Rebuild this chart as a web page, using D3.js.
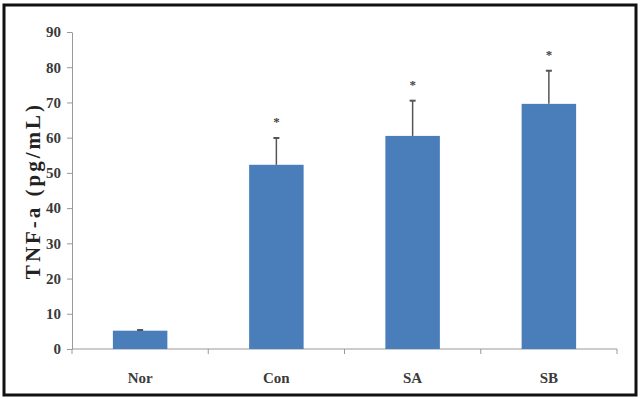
<!DOCTYPE html>
<html>
<head>
<meta charset="utf-8">
<script src="https://cdn.jsdelivr.net/npm/d3@7"></script>
<style>
  html, body { margin: 0; padding: 0; background: #fff; }
  svg { display: block; }
</style>
</head>
<body>
<div id="chart"></div>
<script>
// ── Data
const categories = ["Nor", "Con", "SA", "SB"];
const means = [5.2, 52.3, 60.5, 69.6];
const errors = [0.2, 7.6, 10.0, 9.4];
const significant = [false, true, true, true];
const yTicks = [0, 10, 20, 30, 40, 50, 60, 70, 80, 90];

const width = 640, height = 399;
const margin = { top: 32, right: 23, bottom: 50, left: 72 };

const svg = d3.select("#chart").append("svg")
  .attr("width", width)
  .attr("height", height);

// ── Outer frame
svg.append("rect")
  .attr("x", 4).attr("y", 5)
  .attr("width", 632).attr("height", 390)
  .attr("fill", "#fff")
  .attr("stroke", "#111")
  .attr("stroke-width", 3);

const x = d3.scaleBand()
  .domain(categories)
  .range([margin.left, width - margin.right])
  .paddingInner(0.6)
  .paddingOuter(0.3);

const y = d3.scaleLinear()
  .domain([0, 90])
  .range([height - margin.bottom, margin.top]);

const font = "'Liberation Serif', 'Times New Roman', serif";

// ── Y axis
const yAxis = svg.append("g")
  .attr("transform", `translate(${margin.left},0)`)
  .call(d3.axisLeft(y).tickValues(yTicks).tickSize(5).tickSizeOuter(0).tickPadding(6));
yAxis.select(".domain").attr("stroke", "#999");
yAxis.selectAll(".tick line").attr("stroke", "#999");
yAxis.selectAll(".tick text")
  .attr("font-family", font)
  .attr("font-weight", "bold")
  .attr("font-size", 15)
  .attr("fill", "#3a3a3a");

// ── X axis (ticks between categories)
const xAxisG = svg.append("g")
  .attr("transform", `translate(0,${y(0)})`);
xAxisG.append("line")
  .attr("x1", margin.left).attr("x2", width - margin.right)
  .attr("stroke", "#999");
const step = x.step();
const bounds = d3.range(categories.length + 1)
  .map(i => margin.left + i * step);
xAxisG.selectAll("line.tick")
  .data(bounds)
  .join("line")
  .attr("class", "tick")
  .attr("x1", d => d).attr("x2", d => d)
  .attr("y1", 0).attr("y2", 5)
  .attr("stroke", "#999");
xAxisG.selectAll("text")
  .data(categories)
  .join("text")
  .attr("x", d => x(d) + x.bandwidth() / 2)
  .attr("y", 34)
  .attr("text-anchor", "middle")
  .attr("font-family", font)
  .attr("font-weight", "bold")
  .attr("font-size", 15)
  .attr("fill", "#3a3a3a")
  .text(d => d);

// ── Bars
svg.append("g")
  .selectAll("rect")
  .data(categories)
  .join("rect")
  .attr("x", d => x(d))
  .attr("y", (d, i) => y(means[i]))
  .attr("width", x.bandwidth())
  .attr("height", (d, i) => y(0) - y(means[i]))
  .attr("fill", "#4a7ebb");

// ── Error bars (upper only)
const err = svg.append("g").attr("stroke", "#555").attr("stroke-width", 1.5);
categories.forEach((c, i) => {
  const cx = x(c) + x.bandwidth() / 2;
  const top = y(means[i] + errors[i]);
  err.append("line")
    .attr("x1", cx).attr("x2", cx)
    .attr("y1", y(means[i])).attr("y2", top);
  err.append("line")
    .attr("x1", cx - 3).attr("x2", cx + 3)
    .attr("y1", top).attr("y2", top)
    .attr("stroke-width", 2);
});

// ── Significance marks
svg.append("g")
  .selectAll("text")
  .data(categories.filter((c, i) => significant[i]))
  .join("text")
  .attr("x", d => x(d) + x.bandwidth() / 2)
  .attr("y", d => {
    const i = categories.indexOf(d);
    return y(means[i] + errors[i]) - 12;
  })
  .attr("text-anchor", "middle")
  .attr("font-family", font)
  .attr("font-weight", "bold")
  .attr("font-size", 13)
  .attr("fill", "#444")
  .text("*");

// ── Y axis title
svg.append("text")
  .attr("transform", `translate(40,${(y(0) + y(90)) / 2}) rotate(-90)`)
  .attr("text-anchor", "middle")
  .attr("font-family", font)
  .attr("font-weight", "bold")
  .attr("font-size", 21)
  .attr("letter-spacing", 3)
  .attr("fill", "#222")
  .text("TNF-a (pg/mL)");
</script>
</body>
</html>
